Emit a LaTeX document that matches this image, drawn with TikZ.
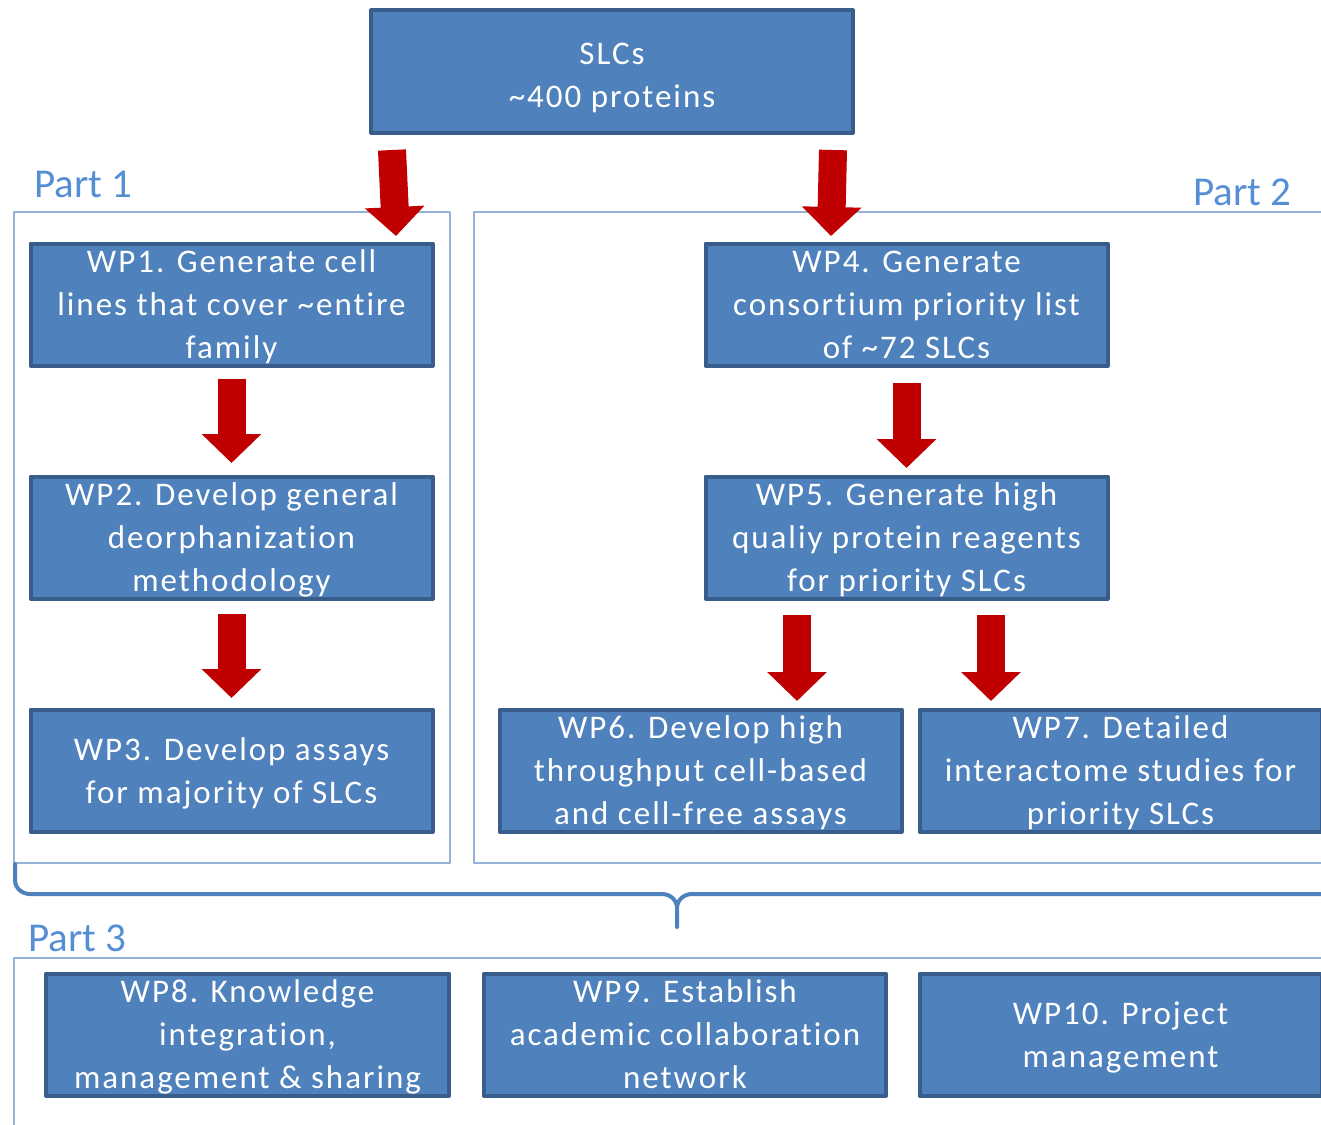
\documentclass[tikz,border=0pt]{standalone}
\usepackage{fontspec}
\setmainfont{Carlito}[LetterSpace=6, Ligatures=NoCommon]
\newfontfamily\partfont{Carlito}
\usetikzlibrary{arrows.meta}
\definecolor{wpblue}{HTML}{4F81BD}
\definecolor{wpborder}{HTML}{385D8A}
\definecolor{partblue}{HTML}{558ED5}
\definecolor{frameblue}{HTML}{95B3D7}
\definecolor{arrowred}{HTML}{C00000}
\newcommand{\wptext}[1]{\rule{0pt}{29pt}#1\rule[-7pt]{0pt}{7pt}}
\begin{document}
\begin{tikzpicture}[x=1pt, y=-1pt, line join=round,
		wp/.style={draw=wpborder, line width=4pt, fill=wpblue, text=white, minimum width=402pt, minimum height=122pt, inner sep=0pt, align=center, font=\fontsize{33}{43}\selectfont},
		frame/.style={draw=frameblue, line width=1.5pt},
		part/.style={anchor=base west, inner sep=0pt, text=partblue, font=\partfont\fontsize{41}{49}\selectfont},
		redarrow/.style={draw=arrowred, line width=28pt, -{Triangle[width=58pt,length=29pt]}}]
				\clip (0,0) rectangle (1321,1124);
				\draw[frame] (14,212) rectangle (450,863) (474,212) rectangle (1340,863) (14,958) rectangle (1340,1140);
				\node[part] (p1) at (34,197) {Part 1};
				\node[part] (p2) at (1193,205) {Part 2};
				\node[part] (p3) at (28,951) {Part 3};
				\draw[wpblue, line width=4pt, line cap=round] (15,864) -- (15,880) to[out=-90,in=180] (30,894) -- (662,894) to[out=0,in=90] (677,908) -- (677,927) (677,908) to[out=90,in=180] (692,894) -- (1330,894);
				
				\node[wp, minimum width=482pt] (slc) at (612,71.5) {\wptext{\rule{0pt}{35pt}SLCs\\\textasciitilde400 proteins}};
				\node[wp] (wp1) at (231.5,304.5) {\wptext{WP1. Generate cell\\lines that cover \textasciitilde entire\\family}};
				\node[wp] (wp2) at (231.5,537.5) {\wptext{WP2. Develop general\\deorphanization\\methodology}};
				\node[wp] (wp3) at (231.5,770.5) {\wptext{WP3. Develop assays\\for majority of SLCs}};
				\node[wp] (wp4) at (906.5,304.5) {\wptext{WP4. Generate\\consortium priority list\\of \textasciitilde72 SLCs}};
				\node[wp] (wp5) at (906.5,537.5) {\wptext{WP5. Generate high\\qualiy protein reagents\\for priority SLCs}};
				\node[wp] (wp6) at (700.5,770.5) {\wptext{WP6. Develop high\\throughput cell-based\\and cell-free assays}};
				\node[wp] (wp7) at (1120.5,770.5) {\wptext{WP7. Detailed\\interactome studies for\\priority SLCs}};
				\node[wp, minimum width=403pt] (wp8) at (247.5,1034.5) {\wptext{WP8. Knowledge\\integration,\\management \& sharing}};
				\node[wp] (wp9) at (685,1034.5) {\wptext{WP9. Establish\\academic collaboration\\network}};
				\node[wp] (wp10) at (1120.5,1034.5) {\wptext{WP10. Project\\management}};
				
				\draw[redarrow] ([xshift=23pt,yshift=-15.5pt]slc.south west) -- ([xshift=-38.5pt,yshift=5.5pt]wp1.north east);
				\draw[redarrow] ([xshift=-22pt,yshift=-15.5pt]slc.south east) -- ([xshift=-75.5pt,yshift=5.5pt]wp4.north);
				\draw[redarrow] ([yshift=-11.5pt]wp1.south) -- ([yshift=11.5pt]wp2.north);
				\draw[redarrow] ([yshift=-13.5pt]wp2.south) -- ([yshift=9.5pt]wp3.north);
				\draw[redarrow] ([yshift=-15.5pt]wp4.south) -- ([yshift=6.5pt]wp5.north);
				\draw[redarrow] ([xshift=-109.5pt,yshift=-14.5pt]wp5.south) -- ([xshift=96.5pt,yshift=6.5pt]wp6.north);
				\draw[redarrow] ([xshift=84.5pt,yshift=-14.5pt]wp5.south) -- ([xshift=-129.5pt,yshift=6.5pt]wp7.north);
			\end{tikzpicture}
\end{document}
